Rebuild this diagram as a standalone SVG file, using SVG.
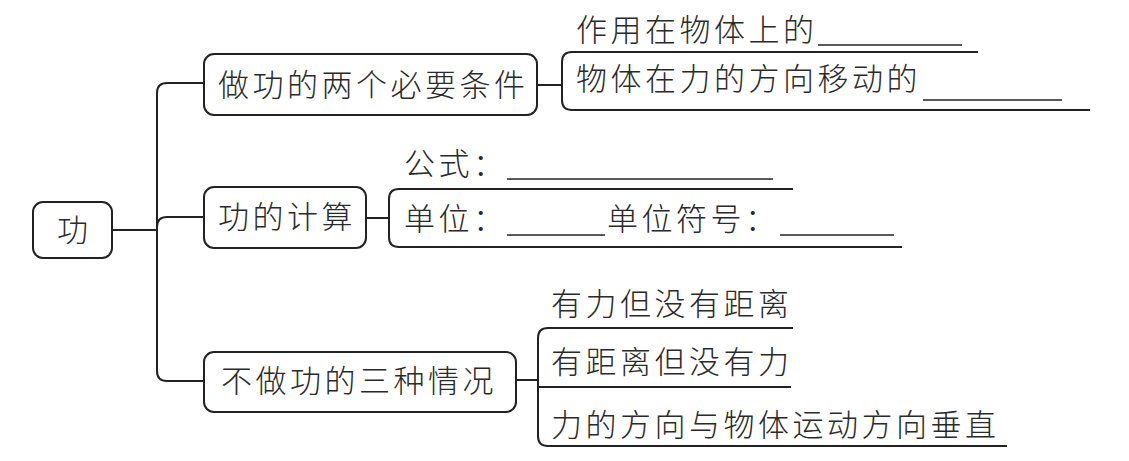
<svg xmlns="http://www.w3.org/2000/svg" width="1129" height="461" viewBox="0 0 1129 461">
<style>
.box{fill:#fff;stroke:#222;stroke-width:2}
.ln{fill:none;stroke:#222;stroke-width:2;stroke-linecap:butt}
.bl{fill:none;stroke:#222;stroke-width:1.6}
text{font-family:"Noto Sans CJK SC","Noto Sans",sans-serif;font-size:31px;font-weight:300;fill:#2a2a2a;letter-spacing:3.5px}
</style>
<rect width="1129" height="461" fill="#fff"/>
<g id="connectors">
<path class="ln" d="M112,230 H157"/>
<path class="ln" d="M204,83 H167 Q157,83 157,93 V371 Q157,381 167,381 H204"/>
<path class="ln" d="M157,227 Q157,217 167,217 H204"/>
<path class="ln" d="M537,85 H562"/>
<path class="ln" d="M366,218 H389"/>
<path class="ln" d="M516,380 H538"/>
</g>
<g id="root">
<rect class="box" x="33" y="202" width="79" height="56" rx="10"/>
<text x="57" y="241">功</text>
</g>
<g id="n1">
<rect class="box" x="204" y="54" width="333" height="61" rx="10"/>
<text x="218" y="96">做功的两个必要条件</text>
</g>
<g id="n1-items">
<path class="ln" d="M978,52 H572 Q562,52 562,62 V100 Q562,110 572,110 H1090"/>
<text x="576" y="41">作用在物体上的</text>
<path class="bl" d="M818,45 H962"/>
<text x="576" y="90">物体在力的方向移动的</text>
<path class="bl" d="M923,100 H1062"/>
</g>
<g id="n2">
<rect class="box" x="204" y="187" width="162" height="61" rx="10"/>
<text x="218" y="228">功的计算</text>
</g>
<g id="n2-items">
<path class="ln" d="M793,189 H399 Q389,189 389,199 V237 Q389,247 399,247 H902"/>
<text x="404" y="175">公式：</text>
<path class="bl" d="M507,179 H773"/>
<text x="404" y="230">单位：</text>
<path class="bl" d="M507,235 H605"/>
<text x="607" y="230">单位符号：</text>
<path class="bl" d="M780,235 H894"/>
</g>
<g id="n3">
<rect class="box" x="204" y="352" width="312" height="60" rx="10"/>
<text x="221" y="392">不做功的三种情况</text>
</g>
<g id="n3-items">
<path class="ln" d="M793,328 H548 Q538,328 538,338 V436 Q538,446 548,446 H1007"/>
<path class="ln" d="M538,387 H791"/>
<text x="551" y="315">有力但没有距离</text>
<text x="551" y="373">有距离但没有力</text>
<text x="551" y="436">力的方向与物体运动方向垂直</text>
</g>
</svg>
